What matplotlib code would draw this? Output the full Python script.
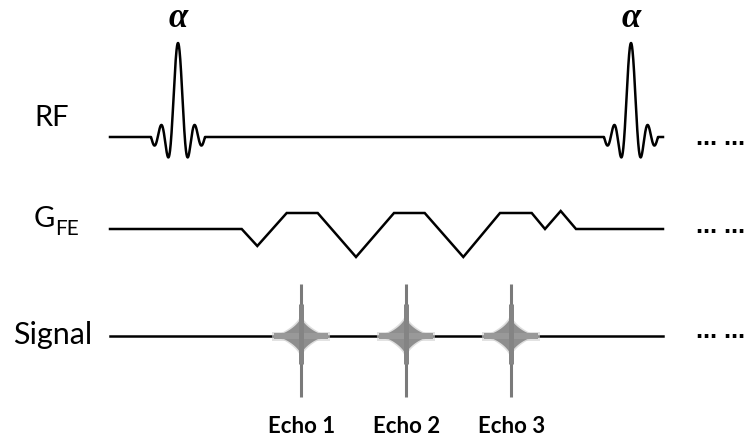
import numpy as np
import matplotlib.pyplot as plt

# time axis runs left to right; each channel sits on its own baseline
t_start, t_end = 110, 663
rf_centres = [178, 631]          # alpha pulses
rf_peak = 94
gfe_t = [110, 241.7, 257.3, 286.7, 317.7, 356, 394, 424.7, 463.3, 500, 531.7, 545, 560.7, 576, 663]
gfe_amp = [0, 0, -17, 16, 16, -28, 16, 16, -28, 16, 16, 0, 18, 0, 0]
echo_t = [301, 405.5, 510.5]
echo_labels = ['Echo 1', 'Echo 2', 'Echo 3']

base = {'RF': 301, 'G': 209, 'S': 102}

fig = plt.figure(figsize=(7.46, 4.39), dpi=100)
ax = fig.add_axes([0, 0, 1, 1])
ax.set_xlim(0, 746)
ax.set_ylim(0, 439)
ax.axis('off')

lw = 1.8

# RF: windowed sinc pulses
t = np.linspace(t_start, t_end, 4000)
rf = np.zeros_like(t)
for c in rf_centres:
    u = (t - c) / 6.75
    rf += np.where(np.abs(u) <= 4, np.sinc(u), 0.0)
ax.plot(t, base['RF'] + rf_peak * rf, color='black', lw=lw, solid_joinstyle='round')
for c in rf_centres:
    ax.text(c, 412, '\u03b1', ha='center', va='baseline', fontsize=25,
            family=['Liberation Serif', 'DejaVu Serif'], fontweight='bold', fontstyle='italic')

# frequency-encode gradient
ax.plot(gfe_t, base['G'] + np.array(gfe_amp), color='black', lw=lw, solid_joinstyle='miter')

# signal line and echoes
ax.plot([t_start, t_end], [base['S'], base['S']], color='black', lw=lw)


def echo_star(xc, yc, a, b, p):
    th = np.linspace(0, 2 * np.pi, 721)
    cx, cy = np.cos(th), np.sin(th)
    x = a * np.sign(cx) * np.abs(cx) ** (2 / p)
    y = b * np.sign(cy) * np.abs(cy) ** (2 / p)
    return xc + x, yc + y


for xe, lab in zip(echo_t, echo_labels):
    yb = base['S']
    # soft halo
    xs, ys = echo_star(xe, yb, 30, 22, 0.7)
    ax.fill(xs, ys, color='#c8c8c8', alpha=0.6, lw=0, zorder=3)
    ax.fill_between([xe - 29, xe + 29], yb - 4.5, yb + 4.5, color='#cfcfcf', alpha=0.6, lw=0, zorder=3)
    # core
    xs, ys = echo_star(xe, yb, 27, 19, 0.7)
    ax.fill(xs, ys, color='#8e8e8e', lw=0, zorder=4)
    ax.fill_between([xe - 27, xe + 27], yb - 2.8, yb + 2.8, color='#999999', lw=0, zorder=4)
    ax.plot([xe, xe], [yb - 61, yb + 52], color='#7a7a7a', lw=2.2, zorder=5, solid_capstyle='butt')
    ax.plot([xe, xe], [yb - 28, yb + 32], color='#848484', lw=3.6, zorder=5, solid_capstyle='butt')
    ax.text(xe + 1, 12, lab, ha='center', va='center', fontsize=16,
            family='Lato', fontweight='bold')

# channel labels
ax.text(52, 313, 'RF', ha='center', va='baseline', fontsize=21, family='Lato')
ax.text(34, 212, 'G', ha='left', va='baseline', fontsize=21, family='Lato')
ax.text(55, 204, 'FE', ha='left', va='baseline', fontsize=15, family='Lato')
ax.text(13, 95, 'Signal', ha='left', va='baseline', fontsize=22, family='Lato')

# continuation dots
for y in [297, 209, 104]:
    ax.text(696, y - 3, '... ...', ha='left', va='baseline', fontsize=18,
            family='Liberation Sans', fontweight='bold')

fig.savefig('out.png', dpi=100)
